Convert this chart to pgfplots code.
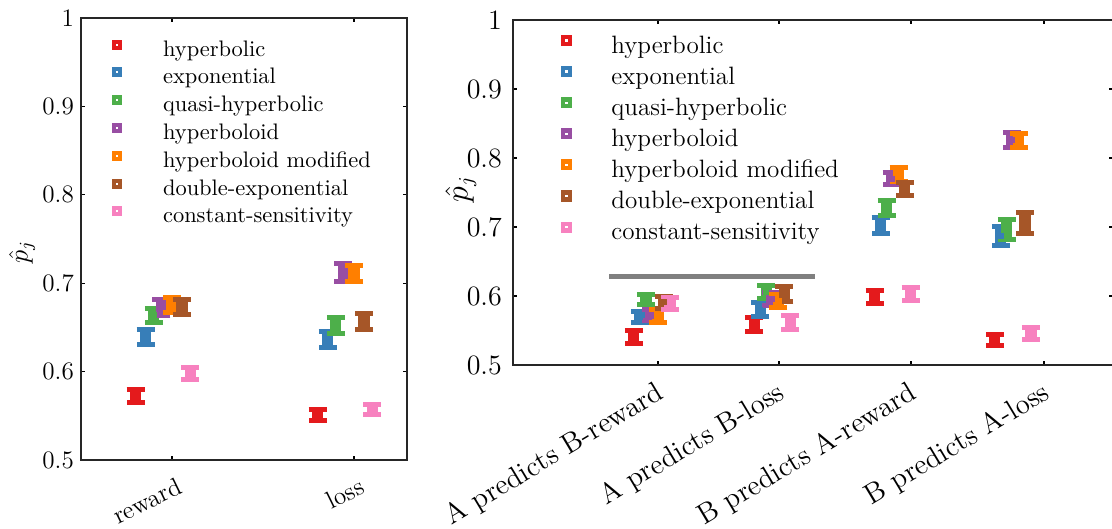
\documentclass[border=0pt]{standalone}
\usepackage{pgfplots}
\pgfplotsset{compat=1.18}

\definecolor{cRed}{RGB}{228,26,28}
\definecolor{cBlue}{RGB}{55,126,184}
\definecolor{cGreen}{RGB}{77,175,74}
\definecolor{cPurple}{RGB}{152,78,163}
\definecolor{cOrange}{RGB}{255,127,0}
\definecolor{cBrown}{RGB}{166,86,40}
\definecolor{cPink}{RGB}{247,129,191}

\pgfplotsset{
  est/.style={color=#1, only marks, mark=square*, mark size=1.2pt,
    mark options={draw=#1, fill=#1, solid},
    error bars/.cd, y dir=both, y explicit,
    error bar style={line width=5pt, color=#1, solid},
    error mark options={rotate=90, line width=2.25pt, mark size=4.05pt, color=#1, solid}},
  base/.style={
    scale only axis, anchor=south west,
    ymin=0.5, ymax=1,
    ytick={0.5,0.6,0.7,0.8,0.9,1},
    yticklabels={0.5,0.6,0.7,0.8,0.9,1},
    tick align=inside, major tick length=1.8pt,
    every tick/.style={black, line width=0.6pt},
    axis line style={black!85, line width=0.9pt},
    legend cell align=left,
    ylabel={$\hat{p}_j$},
  },
}

\begin{document}
\begin{tikzpicture}
\path[use as bounding box] (0,0) rectangle (500.4pt,238.05pt);

% left panel
\begin{axis}[base,
  at={(36.45pt,31.05pt)}, width=146.7pt, height=198.9pt,
  xmin=-0.5, xmax=1.291,
  xtick={0,1}, xticklabels={reward,loss},
  tick label style={font=\fontsize{11.3}{13}\selectfont},
  yticklabel style={xshift=0.3pt},
  xticklabel style={rotate=26, anchor=north east, inner sep=0pt, xshift=-1.5pt, yshift=-7.5pt},
  every axis y label/.style={at={(axis description cs:-0.181,0.47)}, rotate=90, anchor=center, font=\fontsize{12}{14}\selectfont},
  legend image code/.code={\node[draw, fill=white, line width=1.8pt, minimum size=2.7pt, text height=0pt, text depth=0pt, inner sep=0pt] at (0pt,2.6pt) {}; \path (-2.5pt,0pt) (22pt,0pt);},
  legend style={at={(axis description cs:0.082,0.951)}, anchor=north west, draw=none, fill=none,
    inner sep=0pt, outer sep=0pt, row sep=3.05pt, column sep=0pt,
    nodes={inner sep=0pt, text height=7.2pt, text depth=2pt, font=\fontsize{10.1}{12}\selectfont}},
]
\addplot[est=cRed] coordinates {(-0.2,0.572) +- (0,0.0072) (0.8,0.551) +- (0,0.0062)};
\addplot[est=cBlue] coordinates {(-0.145,0.639) +- (0,0.0081) (0.855,0.636) +- (0,0.0089)};
\addplot[est=cGreen] coordinates {(-0.1,0.664) +- (0,0.0079) (0.9,0.652) +- (0,0.0089)};
\addplot[est=cPurple] coordinates {(-0.058,0.673) +- (0,0.009) (0.942,0.712) +- (0,0.0098)};
\addplot[est=cOrange] coordinates {(0,0.675) +- (0,0.0085) (1,0.711) +- (0,0.0089)};
\addplot[est=cBrown] coordinates {(0.055,0.673) +- (0,0.0085) (1.055,0.657) +- (0,0.0089)};
\addplot[est=cPink] coordinates {(0.1,0.598) +- (0,0.0066) (1.1,0.557) +- (0,0.0055)};
\legend{hyperbolic,exponential,quasi-hyperbolic,hyperboloid,hyperboloid modified,double-exponential,constant-sensitivity}
\end{axis}

% right panel
\begin{axis}[base,
  at={(230.85pt,73.8pt)}, width=270pt, height=155.25pt,
  xmin=-1.205, xmax=3.782,
  xtick={0,1.006,2.103,3.209},
  xticklabels={A predicts B-reward,A predicts B-loss,B predicts A-reward,B predicts A-loss},
  tick label style={font=\fontsize{12.6}{14}\selectfont},
  yticklabel style={xshift=-1.5pt},
  xticklabel style={rotate=31, anchor=north east, inner sep=0pt, xshift=-4.5pt, yshift=-4.8pt, font=\fontsize{12.9}{15}\selectfont},
  every axis y label/.style={at={(axis description cs:-0.087,0.51)}, rotate=90, anchor=center, font=\fontsize{13.4}{15}\selectfont},
  legend image code/.code={\node[draw, fill=white, line width=2pt, minimum size=3pt, text height=0pt, text depth=0pt, inner sep=0pt] at (0pt,2.9pt) {}; \path (-2.7pt,0pt) (21.5pt,0pt);},
  legend style={at={(axis description cs:0.073,0.957)}, anchor=north west, draw=none, fill=none,
    inner sep=0pt, outer sep=0pt, row sep=3.45pt, column sep=0pt,
    nodes={inner sep=0pt, text height=8pt, text depth=2.3pt, font=\fontsize{11.3}{13}\selectfont}},
]
\addplot[gray, line width=2pt, forget plot] coordinates {(-0.407,0.628) (1.305,0.628)};
\addplot[est=cRed] coordinates {(-0.2,0.541) +- (0,0.0092) (0.8,0.559) +- (0,0.010) (1.8,0.599) +- (0,0.0094) (2.8,0.536) +- (0,0.008)};
\addplot[est=cBlue] coordinates {(-0.15,0.570) +- (0,0.008) (0.85,0.580) +- (0,0.0099) (1.85,0.702) +- (0,0.0116) (2.85,0.687) +- (0,0.0138)};
\addplot[est=cGreen] coordinates {(-0.1,0.595) +- (0,0.0078) (0.9,0.606) +- (0,0.0094) (1.9,0.728) +- (0,0.011) (2.9,0.696) +- (0,0.0145)};
\addplot[est=cPurple] coordinates {(-0.058,0.572) +- (0,0.008) (0.942,0.596) +- (0,0.0094) (1.942,0.770) +- (0,0.0087) (2.942,0.826) +- (0,0.011)};
\addplot[est=cOrange] coordinates {(0,0.571) +- (0,0.009) (1,0.593) +- (0,0.0096) (2,0.776) +- (0,0.010) (3,0.825) +- (0,0.010)};
\addplot[est=cBrown] coordinates {(0.05,0.591) +- (0,0.009) (1.05,0.603) +- (0,0.0104) (2.05,0.755) +- (0,0.0094) (3.05,0.706) +- (0,0.015)};
\addplot[est=cPink] coordinates {(0.1,0.589) +- (0,0.0092) (1.1,0.562) +- (0,0.010) (2.1,0.603) +- (0,0.010) (3.1,0.545) +- (0,0.0087)};
\legend{hyperbolic,exponential,quasi-hyperbolic,hyperboloid,hyperboloid modified,double-exponential,constant-sensitivity}
\end{axis}
\end{tikzpicture}
\end{document}
